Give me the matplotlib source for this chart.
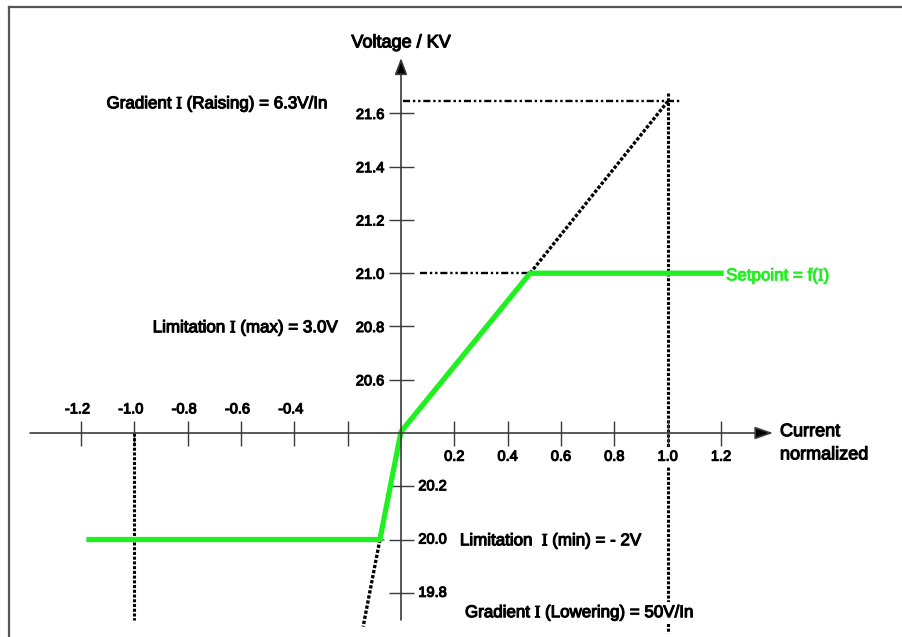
import matplotlib
matplotlib.use("Agg")
import matplotlib.pyplot as plt
from matplotlib.lines import Line2D
import matplotlib.patheffects as pe

plt.rcParams['font.family'] = ['Liberation Sans', 'DejaVu Sans']
plt.rcParams['mathtext.fontset'] = 'custom'
plt.rcParams['mathtext.rm'] = 'Liberation Serif'

# ---- data ----
setpoint_x = [-1.17, -0.079, 0.0, 0.484, 1.20]
setpoint_y = [20.0, 20.0, 20.405, 21.0, 21.0]

raise_grad_x = [0.484, 1.0]
raise_grad_y = [21.0, 21.645]
lower_grad_x = [-0.079, -0.142]
lower_grad_y = [20.0, 19.673]

ref_h_upper_x = [0.006, 1.052]
ref_h_upper_y = [21.645, 21.645]
ref_h_mid_x = [0.071, 0.484]
ref_h_mid_y = [21.0, 21.0]
ref_h_low_x = [-0.145, -0.06]
ref_h_low_y = [20.0, 20.0]
ref_v_pos_x = [1.0, 1.0]
ref_v_pos_y = [21.675, 19.65]
ref_v_neg_x = [-1.0, -1.0]
ref_v_neg_y = [20.4, 19.698]

y_ticks_upper = [20.6, 20.8, 21.0, 21.2, 21.4, 21.6]
y_tick_labels_upper = ['20.6', '20.8', '21.0', '21.2', '21.4', '21.6']
y_ticks_lower = [19.8, 20.0, 20.2]
y_tick_labels_lower = ['19.8', '20.0', '20.2']
x_ticks_pos = [0.2, 0.4, 0.6, 0.8, 1.0, 1.2]
x_tick_labels_pos = ['0.2', '0.4', '0.6', '0.8', '1.0', '1.2']
x_ticks_neg = [-1.2, -1.0, -0.8, -0.6, -0.4, -0.2]
x_tick_labels_neg = ['-1.2', '-1.0', '-0.8', '-0.6', '-0.4', '']

x_origin = 0.0
y_origin = 20.4

heavy = [pe.withStroke(linewidth=0.8, foreground='black')]
heavy_g = [pe.withStroke(linewidth=0.7, foreground='#1ff01f')]

fig = plt.figure(figsize=(9.03, 6.37), dpi=100)
ax = fig.add_axes([0, 0, 1, 1])
ax.set_xlim(-1.5036, 1.8823)
ax.set_ylim(19.634, 22.026)
ax.patch.set_visible(False)

for s in ['top', 'right', 'left', 'bottom']:
    ax.spines[s].set_visible(False)
ax.spines['left'].set_position(('data', x_origin))
ax.spines['bottom'].set_position(('data', y_origin))

axis_col = '#3a3a3a'
ax.annotate('', xy=(x_origin, 21.808), xytext=(x_origin, 19.698),
            arrowprops=dict(arrowstyle='-|>,head_length=1.0,head_width=0.38', color=axis_col,
                            lw=1.2, shrinkA=0, shrinkB=0, fc='black'))
ax.annotate('', xy=(1.395, y_origin), xytext=(-1.391, y_origin),
            arrowprops=dict(arrowstyle='-|>,head_length=1.1,head_width=0.38', color=axis_col,
                            lw=1.2, shrinkA=0, shrinkB=0, fc='black'))

tfs = 10.5
ax.set_yticks(y_ticks_lower + y_ticks_upper)
ax.set_yticklabels([''] * len(y_ticks_lower) + y_tick_labels_upper)
ax.set_xticks(x_ticks_neg + x_ticks_pos)
ax.set_xticklabels([''] * len(x_ticks_neg) + x_tick_labels_pos)
ax.tick_params(axis='y', direction='inout', length=18, width=1.0, color=axis_col,
               labelsize=tfs, pad=3)
ax.tick_params(axis='x', direction='inout', length=18, width=1.0, color=axis_col,
               labelsize=tfs, pad=3)
for lab in ax.get_xticklabels() + ax.get_yticklabels():
    lab.set_path_effects(heavy)
for lab in ax.get_xticklabels():
    lab.set_bbox(dict(facecolor='white', edgecolor='none', pad=1.5))

for xv, lab in zip(x_ticks_neg, x_tick_labels_neg):
    ax.annotate(lab, xy=(xv, y_origin), xytext=(-2.5, 12), textcoords='offset points',
                ha='center', va='bottom', fontsize=tfs, path_effects=heavy)
for yv, lab in zip(y_ticks_lower, y_tick_labels_lower):
    ax.annotate(lab, xy=(x_origin, yv), xytext=(12.5, 0), textcoords='offset points',
                ha='left', va='center', fontsize=tfs, path_effects=heavy)

# reference lines
dot = (0, (1, 0.55))
dashdot = (0, (3, 1.2, 1, 1.2, 1, 1.2))
ax.plot(ref_h_upper_x, ref_h_upper_y, color='black', lw=1.7, ls=dashdot)
ax.plot(ref_h_mid_x, ref_h_mid_y, color='black', lw=1.7, ls=dashdot)
ax.plot(ref_h_low_x, ref_h_low_y, color='#888888', lw=1.4, ls=dashdot)
ax.plot(ref_v_pos_x, ref_v_pos_y, color='black', lw=2.2, ls=dot, zorder=1)
ax.plot(ref_v_neg_x, ref_v_neg_y, color='black', lw=2.2, ls=dot)
ax.plot(raise_grad_x, raise_grad_y, color='black', lw=2.4, ls=dot)
ax.plot(lower_grad_x, lower_grad_y, color='black', lw=2.4, ls=dot)

green = '#1ff01f'
ax.plot(setpoint_x, setpoint_y, color=green, lw=3.8, solid_joinstyle='miter')

fs = 12.2
ax.text(0.0, 21.865, 'Voltage / KV', ha='center', va='center', fontsize=13, path_effects=heavy)
ax.text(-1.104, 21.636, r'Gradient $\mathrm{I}$ (Raising) = 6.3V/In', ha='left', va='center',
        fontsize=fs, path_effects=heavy)
ax.text(-0.931, 20.795, r'Limitation $\mathrm{I}$ (max) = 3.0V', ha='left', va='center',
        fontsize=fs, path_effects=heavy)
ax.text(1.219, 20.99, r'Setpoint = f($\mathrm{I}$)', ha='left', va='center', fontsize=fs,
        color=green, path_effects=heavy_g)
ax.text(0.221, 19.995, r'Limitation  $\mathrm{I}$ (min) = - 2V', ha='left', va='center',
        fontsize=fs, path_effects=heavy)
ax.text(0.240, 19.725, r'Gradient $\mathrm{I}$ (Lowering) = 50V/In', ha='left', va='center',
        fontsize=fs, path_effects=heavy, zorder=5,
        bbox=dict(facecolor='white', edgecolor='none', pad=1))
ax.text(1.421, 20.405, 'Current', ha='left', va='center', fontsize=13, path_effects=heavy)
ax.text(1.421, 20.318, 'normalized', ha='left', va='center', fontsize=13, path_effects=heavy)

W, H = 903, 637
fig.add_artist(Line2D([8.5 / W, 8.5 / W], [0, 1 - 6.5 / H], color='#555555', lw=1.6,
                      transform=fig.transFigure))
fig.add_artist(Line2D([8.5 / W, 1], [1 - 6.5 / H, 1 - 6.5 / H], color='#555555', lw=1.6,
                      transform=fig.transFigure))

fig.savefig('out.png', dpi=100)
